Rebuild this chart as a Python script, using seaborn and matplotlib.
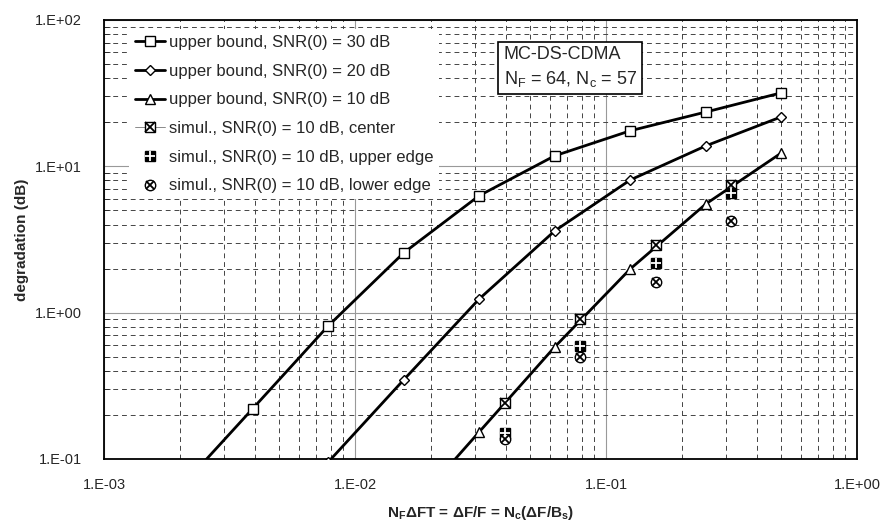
import numpy as np
import matplotlib
matplotlib.use("Agg")
import matplotlib.pyplot as plt
import seaborn as sns
from matplotlib.lines import Line2D
from matplotlib.ticker import FuncFormatter, LogLocator

# values
x_bound = [0.001953, 0.003906, 0.0078125, 0.015625, 0.03125, 0.0625, 0.125, 0.25, 0.5]
snr30 = [0.06, 0.22, 0.81, 2.56, 6.3, 11.8, 17.5, 23.5, 31.8]
snr20 = [np.nan, np.nan, 0.095, 0.347, 1.24, 3.62, 8.07, 13.8, 21.8]
snr10 = [np.nan, np.nan, np.nan, 0.040, 0.153, 0.583, 1.99, 5.53, 12.35]

x_sim = [0.0396, 0.079, 0.158, 0.315]
sim_center = [0.241, 0.905, 2.90, 7.46]
sim_upper = [0.150, 0.592, 2.19, 6.58]
sim_lower = [0.137, 0.498, 1.62, 4.24]

sns.set_style("white")
plt.rcParams['font.family'] = ['Liberation Sans', 'DejaVu Sans']
plt.rcParams['mathtext.fontset'] = 'custom'
plt.rcParams['mathtext.rm'] = 'Liberation Sans'
plt.rcParams['mathtext.it'] = 'Liberation Sans'
plt.rcParams['mathtext.bf'] = 'Liberation Sans:bold'

fig = plt.figure(figsize=(8.85, 5.23), dpi=100)
ax = fig.add_axes([0.1175, 0.1224, 0.8508, 0.8394])
ax.set_xscale('log')
ax.set_yscale('log')

bounds = [(snr30, 's', 7), (snr20, 'D', 5.5), (snr10, '^', 7.5)]
for vals, mk, ms in bounds:
    sns.lineplot(x=x_bound, y=vals, ax=ax, color='black', linewidth=2, marker=mk,
                 markersize=ms, markerfacecolor='white', markeredgecolor='black',
                 markeredgewidth=1, sort=False, zorder=3)

# simulation points (composite markers)
ax.plot(x_sim, sim_center, ls='none', marker='s', ms=7.5, mfc='white', mec='black', mew=1, zorder=4)
ax.plot(x_sim, sim_center, ls='none', marker='x', ms=6.5, mec='black', mew=1.3, zorder=5)
ax.plot(x_sim, sim_upper, ls='none', marker='s', ms=7, mfc='black', mec='black', zorder=4)
ax.plot(x_sim, sim_upper, ls='none', marker='+', ms=7.5, mec='white', mew=1.3, zorder=5)
ax.plot(x_sim, sim_lower, ls='none', marker='o', ms=7.5, mfc='white', mec='black', mew=1, zorder=4)
ax.plot(x_sim, sim_lower, ls='none', marker='x', ms=6, mec='black', mew=1.3, zorder=5)

ax.set_xlim(1e-3, 1)
ax.set_ylim(0.1, 100)

fmt = FuncFormatter(lambda v, p: "1.E{:+03d}".format(int(round(np.log10(v)))))
ax.xaxis.set_major_locator(LogLocator(base=10, numticks=10))
ax.yaxis.set_major_locator(LogLocator(base=10, numticks=10))
ax.xaxis.set_major_formatter(fmt)
ax.yaxis.set_major_formatter(fmt)
ax.xaxis.set_minor_locator(LogLocator(base=10, subs=np.arange(2, 10), numticks=20))
ax.yaxis.set_minor_locator(LogLocator(base=10, subs=np.arange(2, 10), numticks=20))
ax.xaxis.set_minor_formatter(plt.NullFormatter())
ax.yaxis.set_minor_formatter(plt.NullFormatter())

ax.grid(True, which='major', color='#999999', lw=0.8, ls='-')
ax.grid(True, which='minor', color='#444444', lw=0.7, ls=(0, (5, 4)))
ax.tick_params(axis='both', which='major', labelsize=10.5, length=0, pad=14)
ax.tick_params(axis='y', which='major', pad=16)
ax.tick_params(axis='y', which='minor', direction='in', length=4, width=0.6, left=True)
ax.tick_params(axis='x', which='minor', length=0)
for s in ax.spines.values():
    s.set_color('black')
    s.set_linewidth(1.3)

ax.set_ylabel('degradation (dB)', fontsize=11, fontweight='bold', labelpad=4)
ax.set_xlabel(r'$\mathbf{N_F}$ΔFT = ΔF/F = $\mathbf{N_c}$(ΔF/$\mathbf{B_s}$)',
              fontsize=11, fontweight='bold', labelpad=8)

handles = [
    Line2D([], [], color='black', lw=2, marker='s', ms=7, mfc='white', mec='black'),
    Line2D([], [], color='black', lw=2, marker='D', ms=5.5, mfc='white', mec='black'),
    Line2D([], [], color='black', lw=2, marker='^', ms=7.5, mfc='white', mec='black'),
    (Line2D([], [], color='#777777', lw=0.6, marker='s', ms=7.5, mfc='white', mec='black'),
     Line2D([], [], ls='none', marker='x', ms=6.5, mec='black', mew=1.3)),
    (Line2D([], [], ls='none', marker='s', ms=7, mfc='black', mec='black'),
     Line2D([], [], ls='none', marker='+', ms=7.5, mec='white', mew=1.3)),
    (Line2D([], [], ls='none', marker='o', ms=7.5, mfc='white', mec='black'),
     Line2D([], [], ls='none', marker='x', ms=6, mec='black', mew=1.3)),
]
labels = ['upper bound, SNR(0) = 30 dB', 'upper bound, SNR(0) = 20 dB',
          'upper bound, SNR(0) = 10 dB', 'simul., SNR(0) = 10 dB, center',
          'simul., SNR(0) = 10 dB, upper edge', 'simul., SNR(0) = 10 dB, lower edge']
leg = ax.legend(handles, labels, loc='upper left', bbox_to_anchor=(0.022, 0.998),
                fontsize=12, handlelength=1.8, handletextpad=0.25, labelspacing=0.82,
                frameon=True, fancybox=False, framealpha=1, borderpad=0.35)
leg.get_frame().set_edgecolor('none')
leg.get_frame().set_facecolor('white')
leg.set_zorder(6)

ax.text(0.531, 0.940, 'MC-DS-CDMA\nN$_F$ = 64, N$_c$ = 57', transform=ax.transAxes,
        fontsize=13, va='top', ha='left', linespacing=1.35, zorder=7,
        bbox=dict(boxstyle='square,pad=0.3', facecolor='white', edgecolor='black', lw=1.2))

fig.savefig('out.png', dpi=100)
